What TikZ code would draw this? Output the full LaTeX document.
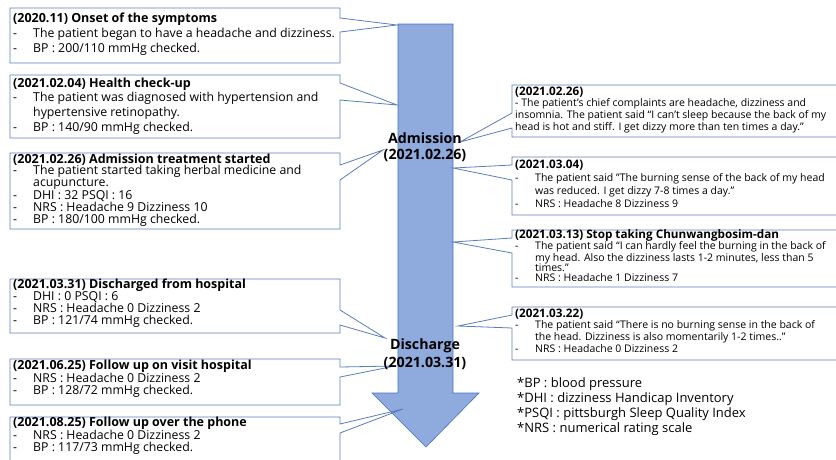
\documentclass[tikz,border=0pt]{standalone}
\usepackage{fontspec}
\setmainfont{Open Sans}
\usetikzlibrary{calc}
\definecolor{arrowfill}{HTML}{8FAADC}
\definecolor{arrowline}{HTML}{4472C4}
\definecolor{boxline}{HTML}{5A7DBE}
\newcommand{\dl}[1]{\makebox[20pt][l]{-}#1}
\newcommand{\cl}[1]{\hspace*{20pt}#1}
\newcommand{\ttl}[1]{{\bfseries\fontsize{12.5}{12.5}\selectfont #1}}
\newcommand{\rttl}[1]{{\bfseries\fontsize{11.7}{11.7}\selectfont #1}}
\newcommand{\btext}[4]{\parbox[t]{#1}{\raggedright\fontsize{#2}{#3}\selectfont #4}}
\begin{document}
\begin{tikzpicture}[x=1pt,y=-1pt,
  callout/.style={draw=boxline, line width=0.8pt, line join=miter},
  txt/.style={anchor=base west, inner sep=0pt}]
\useasboundingbox (0,0) rectangle (836,459);
\clip (0,0) rectangle (836,459);
\fill[white] (0,0) rectangle (836,459);
% timeline arrow
\draw[fill=arrowfill, draw=arrowline, line width=0.6pt]
  (398,24) -- (453,24) -- (453,393) -- (479,393) -- (426,447) -- (372,393) -- (398,393) -- cycle;
% pointer tips
\coordinate (p1) at (397,25);
\coordinate (p2) at (397,105);
\coordinate (p3) at (383,150);
\coordinate (p4) at (385,338);
\coordinate (p5) at (395,366);
\coordinate (p6) at (403,409);
\coordinate (q1) at (460,142);
\coordinate (q2) at (453,168);
\coordinate (q3) at (453,242);
\coordinate (q4) at (458,326);
% left callouts
\draw[callout] (340,18) -- (340,8) -- (10,8) -- (10,63) -- (340,63) -- (340,32) -- (p1) -- cycle;
\draw[callout] (340,83) -- (340,75) -- (10,75) -- (10,138) -- (340,138) -- (340,100) -- (p2) -- cycle;
\draw[callout] (340,165) -- (340,153) -- (10,153) -- (10,229) -- (340,229) -- (340,180) -- (p3) -- cycle;
\draw[callout] (340,310) -- (340,279) -- (10,279) -- (10,333) -- (340,333) -- (340,325) -- (p4) -- cycle;
\draw[callout] (340,367) -- (340,359) -- (10,359) -- (10,405) -- (340,405) -- (340,377) -- (p5) -- cycle;
\draw[callout] (340,424) -- (340,417) -- (10,417) -- (10,475) -- (340,475) -- (340,433) -- (p6) -- cycle;
% right callouts
\draw[callout] (512,113) -- (512,85) -- (850,85) -- (850,137) -- (512,137) -- (512,128) -- (q1) -- cycle;
\draw[callout] (512,165) -- (512,157) -- (850,157) -- (850,215) -- (512,215) -- (512,180) -- (q2) -- cycle;
\draw[callout] (512,238) -- (512,230) -- (850,230) -- (850,287) -- (512,287) -- (512,253) -- (q3) -- cycle;
\draw[callout] (512,315) -- (512,307) -- (850,307) -- (850,360) -- (512,360) -- (512,328) -- (q4) -- cycle;
% left texts
\node[txt] (t1) at (13,22) {\btext{330pt}{12.3}{15}{\ttl{(2020.11) Onset of the symptoms}\newline
  \dl{The patient began to have a headache and dizziness.}\newline
  \dl{BP : 200/110 mmHg checked.}}};
\node[txt] (t2) at (13,87) {\btext{330pt}{12.3}{14.7}{\ttl{(2021.02.04) Health check-up}\newline
  \dl{The patient was diagnosed with hypertension and}\newline
  \cl{hypertensive retinopathy.}\newline
  \dl{BP : 140/90 mmHg checked.}}};
\node[txt] (t3) at (13,163) {\btext{330pt}{12.3}{11.8}{\ttl{(2021.02.26) Admission treatment started}\newline
  \dl{The patient started taking herbal medicine and}\newline
  \cl{acupuncture.}\newline
  \dl{DHI : 32 PSQI : 16}\newline
  \dl{NRS : Headache 9 Dizziness 10}\newline
  \dl{BP : 180/100 mmHg checked.}}};
\node[txt] (t4) at (13,288) {\btext{330pt}{12.3}{12.3}{\ttl{(2021.03.31) Discharged from hospital}\newline
  \dl{DHI : 0 PSQI : 6}\newline
  \dl{NRS : Headache 0 Dizziness 2}\newline
  \dl{BP : 121/74 mmHg checked.}}};
\node[txt] (t5) at (13,369) {\btext{330pt}{12.3}{12}{\ttl{(2021.06.25) Follow up on visit hospital}\newline
  \dl{NRS : Headache 0 Dizziness 2}\newline
  \dl{BP : 128/72 mmHg checked.}}};
\node[txt] (t6) at (13,426) {\btext{330pt}{12.3}{12}{\ttl{(2021.08.25) Follow up over the phone}\newline
  \dl{NRS : Headache 0 Dizziness 2}\newline
  \dl{BP : 117/73 mmHg checked.}}};
% right texts
\node[txt] (r1) at (515,95) {\btext{330pt}{10.5}{11.7}{\rttl{(2021.02.26)}\newline
  - The patient’s chief complaints are headache, dizziness and\newline
  insomnia. The patient said “I can’t sleep because the back of my\newline
  head is hot and stiff. I get dizzy more than ten times a day.”}};
\node[txt] (r2) at (515,168) {\btext{330pt}{10.5}{13.3}{\rttl{(2021.03.04)}\newline
  \dl{The patient said "The burning sense of the back of my head}\newline
  \cl{was reduced. I get dizzy 7-8 times a day.”}\newline
  \dl{NRS : Headache 8 Dizziness 9}}};
\node[txt] (r3) at (515,238) {\btext{330pt}{10.5}{10.3}{\rttl{(2021.03.13) Stop taking Chunwangbosim-dan}\newline
  \dl{The patient said “I can hardly feel the burning in the back of}\newline
  \cl{my head. Also the dizziness lasts 1-2 minutes, less than 5}\newline
  \cl{times.”}\newline
  \dl{NRS : Headache 1 Dizziness 7}}};
\node[txt] (r4) at (515,317) {\btext{330pt}{10.5}{11.7}{\rttl{(2021.03.22)}\newline
  \dl{The patient said “There is no burning sense in the back of}\newline
  \cl{the head. Dizziness is also momentarily 1-2 times..”}\newline
  \dl{NRS : Headache 0 Dizziness 2}}};
% arrow labels
\node[anchor=base, inner sep=0pt] (adm) at (425,143) {\parbox[t]{130pt}{\centering\bfseries\fontsize{14.2}{16}\selectfont Admission\\(2021.02.26)}};
\node[anchor=base, inner sep=0pt] (dis) at (425,349) {\parbox[t]{130pt}{\centering\bfseries\fontsize{14.2}{18}\selectfont Discharge\\(2021.03.31)}};
% abbreviations
\node[txt] (fn) at (517,387) {\btext{300pt}{13}{15.3}{*BP : blood pressure\newline
  *DHI : dizziness Handicap Inventory\newline
  *PSQI : pittsburgh Sleep Quality Index\newline
  *NRS : numerical rating scale}};
\end{tikzpicture}
\end{document}
